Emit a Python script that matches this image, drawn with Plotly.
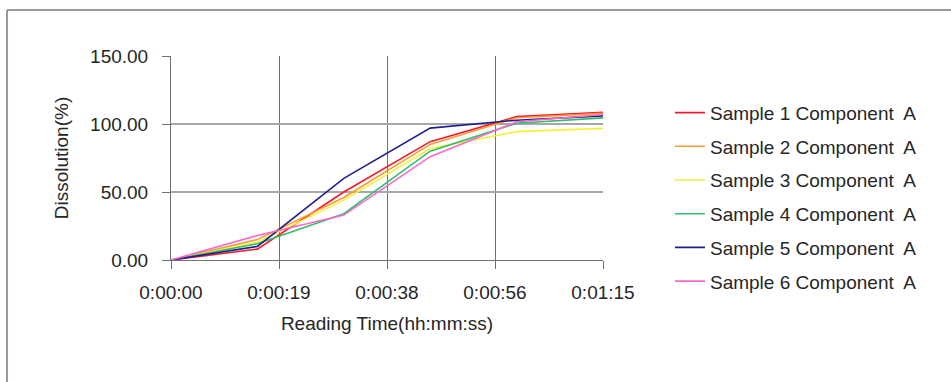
import plotly.graph_objects as go

time_s = [0, 15, 30, 45, 60, 75]
sample1 = [0, 8, 50, 87, 105.4, 108.6]
sample2 = [0, 15, 46, 85, 104.6, 107.8]
sample3 = [0, 13, 44, 82, 94.4, 96.8]
sample4 = [0, 12, 34, 80, 100.5, 104.5]
sample5 = [0, 10, 60, 97, 102.8, 106]
sample6 = [0, 18, 33, 76, 101.6, 107]

names = ["Sample 1 Component\u00a0 A", "Sample 2 Component\u00a0 A", "Sample 3 Component\u00a0 A",
         "Sample 4 Component\u00a0 A", "Sample 5 Component\u00a0 A", "Sample 6 Component\u00a0 A"]
series = [sample1, sample2, sample3, sample4, sample5, sample6]
colors = ["#f01c2c", "#ff9a33", "#f2f23a", "#2fbf6a", "#1f1f8f", "#ff66cc"]

x_tickvals = [0, 18.75, 37.5, 56.25, 75]
x_ticktext = ["0:00:00", "0:00:19", "0:00:38", "0:00:56", "0:01:15"]
y_tickvals = [0, 50, 100, 150]
y_ticktext = ["0.00", "50.00", "100.00", "150.00"]

fig = go.Figure()
for i, (name, vals, c) in enumerate(zip(names, series, colors)):
    fig.add_trace(go.Scatter(x=time_s, y=vals, mode="lines", name=name,
                             legendgroup=f"g{i}",
                             line=dict(color=c, width=1.6)))

font = dict(family="Liberation Sans, Arial, sans-serif", size=19, color="#262626")

fig.update_layout(
    width=951, height=382,
    margin=dict(l=171, r=348, t=56, b=122),
    paper_bgcolor="white", plot_bgcolor="white",
    font=font,
    showlegend=True,
    legend=dict(x=1.155, y=0.815, xanchor="left", yanchor="top",
                font=font, itemwidth=30, tracegroupgap=6,
                maxheight=400,
                bgcolor="rgba(0,0,0,0)"),
    xaxis=dict(range=[0, 75], tickvals=x_tickvals, ticktext=x_ticktext,
               showgrid=True, gridcolor="#707070", gridwidth=1,
               showline=True, linecolor="#707070", linewidth=1,
               ticks="outside", ticklen=8, tickcolor="#707070",
               ticklabelstandoff=7,
               zeroline=False,
               title=dict(text="Reading Time(hh:mm:ss)", standoff=14, font=font)),
    yaxis=dict(range=[0, 150], tickvals=y_tickvals, ticktext=y_ticktext,
               showgrid=True, gridcolor="#a8a8a8", gridwidth=2,
               showline=True, linecolor="#707070", linewidth=1,
               ticks="outside", ticklen=8, tickcolor="#707070",
               ticklabelstandoff=10,
               zeroline=False,
               title=dict(text="Dissolution(%)", standoff=16, font=font)),
    shapes=[
        dict(type="line", xref="paper", yref="paper", x0=-0.3796, x1=1.81, y0=1.2255, y1=1.2255,
             line=dict(color="#9a9a9a", width=2)),
        dict(type="line", xref="paper", yref="paper", x0=-0.3796, x1=-0.3796, y0=1.2255, y1=-0.62,
             line=dict(color="#9a9a9a", width=2)),
    ],
)

fig.write_html("out.html", config={"displayModeBar": False},
               post_script="document.body.style.margin='0';")
